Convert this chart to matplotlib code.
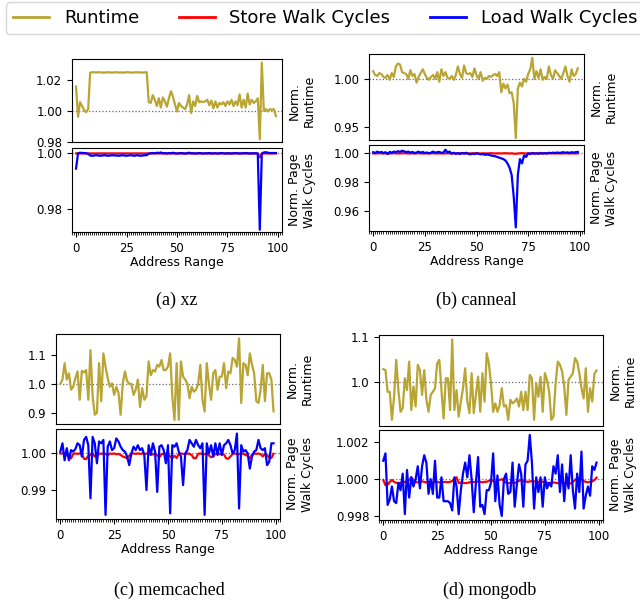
import numpy as np
import matplotlib
matplotlib.use("Agg")
import matplotlib.pyplot as plt
from matplotlib.lines import Line2D
from matplotlib.ticker import MultipleLocator, FormatStrFormatter

# ---------------- data ----------------
x = list(range(100))

xz_runtime = [1.0155, 0.9960, 1.0055, 1.0030, 1.0005, 0.9990, 1.0010, 1.0245, 1.0248, 1.0247,
              1.0246, 1.0248, 1.0247, 1.0245, 1.0247, 1.0246, 1.0248, 1.0246, 1.0245, 1.0247,
              1.0248, 1.0246, 1.0247, 1.0245, 1.0246, 1.0248, 1.0247, 1.0246, 1.0245, 1.0247,
              1.0248, 1.0246, 1.0247, 1.0245, 1.0247, 1.0248, 1.0055, 1.0050, 1.0100, 1.0070,
              1.0030, 1.0080, 1.0020, 1.0085, 1.0060, 1.0025, 1.0080, 1.0125, 1.0090, 1.0040,
              0.9995, 1.0050, 1.0030, 1.0020, 1.0010, 1.0040, 1.0100, 0.9985, 1.0060, 1.0030,
              1.0095, 1.0055, 1.0060, 1.0055, 1.0060, 1.0070, 1.0035, 1.0065, 1.0015, 1.0060,
              1.0020, 1.0050, 1.0040, 1.0055, 1.0030, 1.0060, 1.0040, 1.0070, 1.0030, 1.0060,
              1.0035, 1.0105, 1.0020, 1.0070, 1.0020, 1.0110, 1.0040, 1.0070, 1.0050, 1.0060,
              1.0080, 0.9815, 1.0310, 1.0000, 1.0010, 0.9995, 1.0010, 1.0005, 1.0010, 0.9965]
xz_store = [0.99995] * 91 + [0.9985] + [0.99995] * 8
xz_load = [0.9945, 1.0000, 1.0002, 1.0001, 1.0001, 1.0000, 0.9998, 0.9992, 0.9991, 0.9992,
           0.9993, 0.9992, 0.9991, 0.9992, 0.9993, 0.9992, 0.9991, 0.9992, 0.9993, 0.9992,
           0.9992, 0.9991, 0.9992, 0.9993, 0.9992, 0.9991, 0.9992, 0.9993, 0.9992, 0.9991,
           0.9993, 0.9992, 0.9991, 0.9992, 0.9993, 0.9993, 0.9999, 1.0000, 1.0001, 1.0000,
           1.0002, 1.0001, 1.0003, 1.0000, 1.0001, 0.9999, 1.0001, 1.0000, 1.0002, 1.0000,
           0.9999, 1.0000, 1.0001, 1.0000, 0.9999, 1.0000, 1.0002, 1.0000, 1.0000, 0.9999,
           1.0000, 1.0001, 1.0000, 0.9999, 1.0000, 1.0000, 1.0001, 0.9999, 1.0000, 1.0000,
           0.9999, 1.0000, 1.0001, 1.0000, 0.9999, 1.0000, 1.0000, 0.9999, 1.0000, 1.0001,
           1.0000, 0.9999, 1.0000, 1.0000, 1.0001, 1.0000, 0.9999, 1.0000, 1.0000, 1.0000,
           0.9999, 0.9725, 0.9998, 1.0003, 1.0004, 1.0002, 1.0001, 1.0001, 1.0001, 1.0001]

canneal_runtime = [1.008, 1.004, 1.003, 1.006, 1.005, 1.002, 1.001, 1.004, 0.999, 1.006,
                   1.002, 1.013, 1.016, 1.015, 1.007, 1.006, 1.005, 1.000, 1.009, 1.003,
                   1.005, 0.996, 1.002, 1.006, 1.010, 1.005, 1.001, 0.999, 1.002, 1.004,
                   1.000, 1.007, 0.997, 1.010, 1.003, 1.007, 1.001, 1.000, 1.003, 0.999,
                   1.004, 1.013, 1.005, 1.001, 1.014, 1.006, 1.005, 1.006, 1.002, 1.011,
                   1.004, 1.000, 1.007, 0.998, 1.001, 1.000, 1.003, 1.002, 1.004, 1.005,
                   1.003, 1.007, 0.986, 0.995, 0.990, 0.994, 0.985, 0.986, 0.975, 0.938,
                   0.990, 0.996, 0.992, 1.000, 0.997, 1.005, 1.010, 1.022, 1.000, 1.008,
                   1.001, 1.010, 0.999, 1.002, 1.000, 1.013, 1.004, 1.000, 1.009, 1.006,
                   1.003, 1.000, 1.006, 1.013, 1.003, 0.997, 1.010, 1.003, 1.005, 1.011]
canneal_store = [1.0000, 0.9999, 1.0000, 1.0001, 1.0000, 0.9999, 1.0000, 1.0000, 0.9999, 1.0000,
                 1.0001, 1.0000, 0.9999, 1.0000, 1.0000, 1.0001, 1.0000, 0.9999, 1.0000, 1.0000,
                 0.9999, 1.0000, 1.0001, 1.0000, 0.9999, 1.0000, 1.0000, 0.9999, 1.0000, 1.0001,
                 1.0000, 0.9999, 1.0000, 1.0000, 0.9999, 1.0000, 1.0001, 1.0000, 0.9999, 1.0000,
                 1.0000, 0.9999, 1.0000, 1.0001, 1.0000, 0.9999, 1.0000, 1.0000, 0.9999, 1.0000,
                 1.0001, 1.0000, 0.9999, 1.0000, 1.0000, 0.9999, 1.0000, 1.0001, 1.0000, 0.9999,
                 1.0000, 1.0000, 0.9999, 1.0000, 1.0001, 1.0000, 0.9999, 1.0000, 0.9998, 0.9997,
                 0.9999, 1.0000, 1.0001, 1.0000, 0.9999, 1.0000, 1.0000, 0.9999, 1.0000, 1.0001,
                 1.0000, 0.9999, 1.0000, 1.0000, 0.9999, 1.0000, 1.0001, 1.0000, 0.9999, 1.0000,
                 1.0000, 0.9999, 1.0000, 1.0001, 1.0000, 0.9999, 1.0000, 1.0000, 0.9999, 1.0000]
canneal_load = [1.0008, 1.0003, 1.0012, 1.0005, 1.0010, 1.0002, 1.0008, 0.9995, 1.0010, 1.0004,
                1.0012, 1.0008, 1.0015, 1.0010, 1.0018, 1.0014, 1.0008, 1.0012, 1.0005, 1.0010,
                1.0002, 1.0006, 1.0012, 1.0004, 1.0010, 1.0002, 1.0006, 1.0000, 1.0005, 1.0012,
                1.0004, 1.0008, 1.0010, 1.0003, 1.0006, 1.0025, 1.0006, 1.0012, 0.9998, 1.0004,
                0.9996, 1.0002, 0.9995, 1.0003, 0.9998, 1.0004, 0.9997, 0.9993, 0.9998, 0.9995,
                1.0000, 0.9996, 0.9993, 0.9995, 0.9990, 0.9992, 0.9990, 0.9985, 0.9982, 0.9980,
                0.9975, 0.9970, 0.9965, 0.9960, 0.9950, 0.9930, 0.9900, 0.9850, 0.9700, 0.9485,
                0.9850, 0.9960, 0.9930, 0.9985, 0.9975, 1.0000, 0.9995, 1.0003, 0.9998, 1.0000,
                0.9997, 1.0003, 0.9998, 1.0002, 0.9999, 1.0004, 1.0001, 1.0005, 1.0002, 1.0006,
                1.0003, 1.0005, 1.0008, 1.0004, 1.0007, 1.0003, 1.0008, 1.0005, 1.0008, 1.0010]

memcached_runtime = [1.000, 1.015, 1.072, 1.015, 1.037, 0.980, 0.990, 1.020, 1.043, 0.945,
                     1.045, 1.040, 1.048, 0.945, 1.117, 0.957, 0.893, 0.900, 1.072, 0.940,
                     1.106, 1.060, 1.020, 0.990, 1.002, 0.962, 0.990, 0.970, 0.893, 1.002,
                     1.043, 1.010, 1.000, 1.000, 0.962, 0.980, 1.015, 0.920, 0.985, 0.945,
                     0.957, 1.078, 1.030, 1.048, 1.043, 1.066, 1.060, 1.083, 1.048, 1.048,
                     1.060, 1.106, 0.957, 0.875, 1.072, 0.875, 1.078, 1.025, 1.015, 1.000,
                     0.950, 0.990, 0.973, 0.980, 1.000, 1.066, 0.945, 0.904, 1.072, 1.000,
                     0.945, 1.037, 1.048, 0.980, 1.025, 1.025, 1.072, 0.985, 1.043, 1.037,
                     1.090, 1.083, 1.060, 1.158, 0.934, 1.072, 1.066, 1.030, 1.106, 1.066,
                     1.037, 0.940, 0.934, 0.980, 1.066, 0.940, 1.037, 1.037, 1.015, 0.905]
memcached_store = [0.9998, 0.9998, 0.9997, 0.9996, 0.9988, 0.9985, 0.9997, 0.9998, 0.9997, 0.9998,
                   0.9997, 0.9984, 0.9983, 0.9992, 0.9994, 0.9997, 0.9990, 0.9989, 0.9998, 0.9997,
                   0.9998, 0.9997, 0.9993, 0.9998, 0.9997, 0.9998, 0.9996, 0.9997, 0.9994, 0.9990,
                   0.9988, 0.9985, 0.9992, 0.9997, 0.9998, 0.9997, 0.9998, 0.9997, 0.9998, 0.9996,
                   0.9998, 0.9997, 0.9998, 0.9995, 0.9997, 0.9993, 0.9988, 0.9996, 0.9998, 0.9997,
                   0.9995, 0.9990, 0.9985, 0.9992, 0.9986, 0.9997, 0.9998, 0.9997, 0.9996, 0.9998,
                   0.9997, 0.9994, 0.9985, 0.9986, 0.9997, 0.9998, 0.9997, 0.9996, 0.9998, 0.9993,
                   0.9988, 0.9990, 0.9997, 0.9998, 0.9996, 0.9997, 0.9995, 0.9985, 0.9984, 0.9990,
                   0.9997, 0.9998, 0.9997, 0.9996, 0.9998, 0.9997, 0.9994, 0.9992, 0.9985, 0.9995,
                   0.9998, 0.9997, 0.9998, 0.9996, 0.9990, 0.9997, 0.9994, 0.9987, 0.9986, 0.9997]
memcached_load = [1.0003, 1.0025, 0.9980, 1.0012, 0.9980, 1.0007, 1.0003, 1.0010, 1.0025, 1.0020,
                  0.9990, 1.0034, 1.0042, 1.0020, 0.9879, 1.0042, 1.0025, 0.9972, 1.0030, 1.0025,
                  1.0034, 0.9835, 1.0016, 1.0030, 1.0007, 1.0012, 1.0038, 1.0030, 1.0016, 1.0007,
                  1.0003, 0.9990, 0.9967, 0.9998, 1.0016, 1.0007, 1.0020, 1.0007, 1.0012, 0.9994,
                  0.9901, 1.0020, 0.9994, 1.0025, 1.0003, 0.9896, 1.0016, 1.0020, 1.0007, 0.9972,
                  1.0020, 0.9839, 1.0020, 1.0016, 1.0025, 1.0003, 0.9990, 0.9914, 0.9998, 1.0007,
                  1.0034, 1.0025, 1.0016, 1.0034, 1.0020, 1.0012, 1.0025, 0.9835, 1.0025, 0.9998,
                  1.0020, 0.9990, 1.0025, 0.9994, 1.0025, 0.9994, 1.0020, 1.0025, 1.0034, 1.0020,
                  0.9998, 1.0007, 1.0051, 0.9852, 1.0020, 1.0003, 1.0007, 0.9998, 0.9958, 0.9990,
                  1.0003, 1.0007, 1.0034, 1.0012, 1.0007, 1.0012, 0.9967, 0.9976, 1.0025, 1.0025]

mongodb_runtime = [1.028, 1.026, 0.977, 0.977, 0.914, 0.966, 1.049, 0.981, 0.932, 0.940,
                   1.0075, 0.981, 1.045, 0.936, 0.989, 0.944, 1.038, 1.026, 0.970, 1.026,
                   0.959, 0.932, 0.970, 0.977, 0.985, 1.041, 1.049, 0.981, 0.917, 1.0075,
                   1.0075, 0.936, 1.095, 0.936, 0.981, 0.921, 0.955, 0.985, 1.030, 0.955,
                   0.929, 1.019, 0.929, 0.970, 1.011, 0.932, 1.019, 0.955, 1.064, 1.041,
                   0.996, 0.932, 0.951, 0.932, 0.947, 0.985, 0.944, 0.947, 0.914, 0.959,
                   0.951, 0.955, 0.962, 0.944, 0.977, 0.936, 0.977, 0.936, 1.015, 1.0075,
                   0.914, 0.996, 0.966, 1.011, 0.932, 1.019, 1.004, 0.977, 0.914, 0.921,
                   0.996, 1.045, 1.038, 1.023, 0.989, 0.925, 1.004, 1.011, 1.019, 1.053,
                   1.045, 1.019, 0.985, 0.962, 1.030, 0.932, 0.985, 0.955, 1.018, 1.025]
mongodb_store = [0.99995, 0.99967, 0.99970, 0.99985, 0.99995, 0.99985, 0.99980, 0.99978, 0.99980, 0.99982,
                 0.99985, 0.99990, 0.99995, 1.00010, 0.99995, 0.99985, 0.99982, 0.99985, 0.99988, 0.99985,
                 0.99982, 0.99985, 0.99983, 0.99985, 0.99987, 0.99985, 0.99982, 0.99985, 0.99984, 0.99985,
                 0.99983, 0.99985, 0.99990, 1.00000, 1.00010, 0.99978, 0.99982, 0.99980, 0.99978, 0.99980,
                 0.99982, 0.99985, 0.99984, 0.99985, 0.99987, 0.99985, 0.99983, 0.99985, 0.99986, 0.99990,
                 0.99995, 0.99990, 0.99985, 0.99990, 0.99995, 1.00000, 0.99990, 0.99980, 0.99978, 0.99980,
                 0.99982, 0.99979, 0.99985, 0.99990, 0.99995, 0.99990, 0.99988, 0.99985, 0.99987, 0.99990,
                 0.99988, 0.99986, 0.99985, 0.99988, 0.99986, 0.99982, 0.99980, 0.99978, 0.99980, 0.99982,
                 0.99980, 0.99978, 0.99980, 0.99982, 0.99980, 0.99978, 0.99976, 0.99976, 0.99985, 0.99995,
                 1.00005, 1.00005, 1.00000, 0.99990, 0.99985, 0.99983, 0.99985, 0.99988, 0.99995, 1.00008]
mongodb_load = [1.0010, 1.0014, 0.9986, 0.9989, 0.9996, 0.9988, 0.9987, 0.9998, 0.9994, 1.0003,
                0.9981, 1.0005, 0.9990, 1.0001, 0.9996, 1.0000, 1.0007, 0.9995, 1.0007, 1.0013,
                1.0009, 0.9992, 1.0000, 0.9992, 1.0010, 0.9990, 0.9990, 1.0001, 0.9988, 0.9988,
                0.9988, 0.9987, 0.9983, 1.0001, 0.9996, 0.9981, 0.9994, 1.0003, 1.0009, 1.0001,
                1.0013, 1.0000, 0.9982, 0.9998, 1.0012, 0.9985, 0.9986, 0.9981, 0.9994, 0.9994,
                0.9998, 1.0014, 0.9988, 1.0002, 0.9986, 0.9980, 1.0000, 1.0003, 0.9992, 0.9993,
                1.0009, 0.9985, 0.9997, 1.0008, 1.0003, 0.9985, 1.0008, 1.0010, 1.0024, 1.0009,
                0.9984, 1.0001, 0.9993, 1.0001, 0.9985, 1.0001, 0.9995, 0.9998, 0.9996, 1.0007,
                1.0003, 1.0013, 0.9993, 1.0008, 0.9988, 1.0003, 0.9995, 1.0013, 0.9994, 0.9984,
                1.0003, 0.9993, 1.0015, 0.9984, 0.9991, 0.9996, 0.9991, 1.0007, 1.0005, 1.0009]

captions = ["(a) xz", "(b) canneal", "(c) memcached", "(d) mongodb"]
legend_labels = ["Runtime", "Store Walk Cycles", "Load Walk Cycles"]
x_ticks = [0, 25, 50, 75, 100]

# ---------------- style ----------------
C_RUN = "#b8a533"
C_STORE = "#ff0000"
C_LOAD = "#0000ff"
W, H = 640, 606
TFS = 8.5
LFS = 9

fig = plt.figure(figsize=(W / 100, H / 100), dpi=100)


def box(l, t, r, b):
    return [l / W, 1 - b / H, (r - l) / W, (b - t) / H]


panels = [
    dict(run=xz_runtime, store=xz_store, load=xz_load,
         top=box(72, 59, 282, 142), bot=box(72, 148, 282, 232),
         tylim=(0.9798, 1.0333), tyt=[0.98, 1.00, 1.02], tfmt="%.2f",
         bylim=(0.9717, 1.0019), byt=[0.98, 1.00], bfmt="%.2f",
         cap=(177, 300)),
    dict(run=canneal_runtime, store=canneal_store, load=canneal_load,
         top=box(369, 54, 584, 140), bot=box(369, 145, 584, 231),
         tylim=(0.936, 1.026), tyt=[0.95, 1.00], tfmt="%.2f",
         bylim=(0.946, 1.0058), byt=[0.96, 0.98, 1.00], bfmt="%.2f",
         cap=(476, 300)),
    dict(run=memcached_runtime, store=memcached_store, load=memcached_load,
         top=box(56, 334, 280, 424), bot=box(56, 429, 280, 519),
         tylim=(0.861, 1.173), tyt=[0.9, 1.0, 1.1], tfmt="%.1f",
         bylim=(0.9824, 1.0063), byt=[0.99, 1.00], bfmt="%.2f",
         cap=(169, 590)),
    dict(run=mongodb_runtime, store=mongodb_store, load=mongodb_load,
         top=box(379, 335, 603, 426), bot=box(379, 430, 603, 520),
         tylim=(0.900, 1.105), tyt=[1.0, 1.1], tfmt="%.1f",
         bylim=(0.99778, 1.00267), byt=[0.998, 1.000, 1.002], bfmt="%.3f",
         cap=(490, 590)),
]

for i, p in enumerate(panels):
    at = fig.add_axes(p["top"])
    ab = fig.add_axes(p["bot"])
    for a in (at, ab):
        a.axhline(1.0, color="dimgray", ls=":", lw=0.9, zorder=1)
        a.set_xlim(-2, 102)
        a.tick_params(labelsize=TFS, length=3.5, width=0.8)
    at.plot(x, p["run"], color=C_RUN, lw=1.6, zorder=3)
    ab.plot(x, p["store"], color=C_STORE, lw=1.6, zorder=3)
    ab.plot(x, p["load"], color=C_LOAD, lw=1.6, zorder=4)

    at.set_ylim(*p["tylim"])
    at.set_yticks(p["tyt"])
    at.yaxis.set_major_formatter(FormatStrFormatter(p["tfmt"]))
    at.tick_params(axis="x", which="both", bottom=False, labelbottom=False)

    ab.set_ylim(*p["bylim"])
    ab.set_yticks(p["byt"])
    ab.yaxis.set_major_formatter(FormatStrFormatter(p["bfmt"]))
    ab.set_xticks(x_ticks)
    ab.xaxis.set_minor_locator(MultipleLocator(1))
    ab.tick_params(axis="x", which="minor", length=2, width=0.6)
    ab.set_xlabel("Address Range", fontsize=LFS, labelpad=1)

    at.yaxis.set_label_position("right")
    at.set_ylabel("Norm.\nRuntime", fontsize=LFS, labelpad=4)
    ab.yaxis.set_label_position("right")
    ab.set_ylabel("Norm. Page\nWalk Cycles", fontsize=LFS, labelpad=4)

    fig.text(p["cap"][0] / W, 1 - p["cap"][1] / H, captions[i],
             family="Liberation Serif", fontsize=13, ha="center", va="center")

handles = [Line2D([], [], color=C_RUN, lw=2),
           Line2D([], [], color=C_STORE, lw=2),
           Line2D([], [], color=C_LOAD, lw=2)]
fig.legend(handles, legend_labels, loc="upper left", bbox_to_anchor=(6 / W, 1 - 2 / H),
           ncol=3, fontsize=13, handlelength=2, columnspacing=2.2, borderaxespad=0,
           frameon=True, fancybox=True)

fig.savefig("out.png", dpi=100)
